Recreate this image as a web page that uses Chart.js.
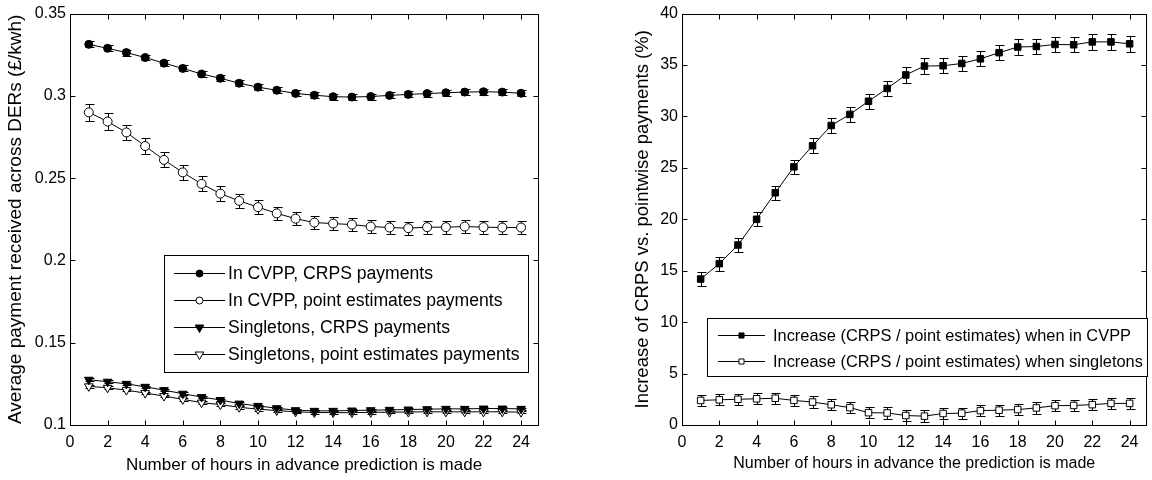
<!DOCTYPE html>
<html>
<head>
<meta charset="utf-8">
<script src="https://cdn.jsdelivr.net/npm/chart.js@4.4.1/dist/chart.umd.min.js"></script>
<style>
  body { margin: 0; background: #fff; }
  #wrap { position: relative; width: 1152px; height: 480px; }
  canvas { position: absolute; top: 0; }
</style>
</head>
<body>
<div id="wrap">
  <canvas id="pay_chart" width="576" height="480" style="left:0"></canvas>
  <canvas id="inc_chart" width="576" height="480" style="left:576px"></canvas>
</div>
<script>
/////////////////////////////////// DATA ///////////////////////////////////
const hours = [1, 2, 3, 4, 5, 6, 7, 8, 9, 10, 11, 12, 13, 14, 15, 16, 17, 18, 19, 20, 21, 22, 23, 24];
const xTicks = [0, 2, 4, 6, 8, 10, 12, 14, 16, 18, 20, 22, 24];
const payTicks = [0.1, 0.15, 0.2, 0.25, 0.3, 0.35];
const incTicks = [0, 5, 10, 15, 20, 25, 30, 35, 40];

// left chart: average payment (£/kwh)
const cvppCrps = [0.3313, 0.3289, 0.3263, 0.3233, 0.3199, 0.3167, 0.3133, 0.3107, 0.3077, 0.3053, 0.3034, 0.3015,
                  0.3004, 0.2995, 0.2993, 0.2996, 0.3003, 0.3009, 0.3014, 0.3019, 0.3023, 0.3025, 0.3023, 0.3016];
const cvppCrpsErr = [0.0018, 0.0018, 0.0018, 0.0018, 0.0018, 0.0018, 0.0018, 0.0018, 0.0018, 0.0018, 0.0018, 0.0018,
                     0.0018, 0.0018, 0.0018, 0.0018, 0.0018, 0.0018, 0.0018, 0.0018, 0.0018, 0.0018, 0.0018, 0.0018];
const cvppPoint = [0.2900, 0.2844, 0.2778, 0.2695, 0.2611, 0.2535, 0.2465, 0.2406, 0.2362, 0.2324, 0.2286, 0.2254,
                   0.2230, 0.2224, 0.2218, 0.2206, 0.2200, 0.2196, 0.2202, 0.2202, 0.2206, 0.2202, 0.2200, 0.2200];
const cvppPointErr = [0.0050, 0.0050, 0.0048, 0.0048, 0.0046, 0.0046, 0.0046, 0.0044, 0.0042, 0.0042, 0.0040, 0.0040,
                      0.0040, 0.0040, 0.0040, 0.0040, 0.0040, 0.0040, 0.0040, 0.0040, 0.0040, 0.0040, 0.0040, 0.0040];
const singCrps = [0.1275, 0.1263, 0.1250, 0.1232, 0.1212, 0.1190, 0.1170, 0.1152, 0.1130, 0.1116, 0.1102, 0.1090,
                  0.1086, 0.1086, 0.1088, 0.1090, 0.1092, 0.1094, 0.1096, 0.1098, 0.1098, 0.1100, 0.1100, 0.1098];
const singCrpsErr = [0.0008, 0.0008, 0.0008, 0.0008, 0.0008, 0.0008, 0.0008, 0.0008, 0.0008, 0.0008, 0.0008, 0.0008,
                     0.0008, 0.0008, 0.0008, 0.0008, 0.0008, 0.0008, 0.0008, 0.0008, 0.0008, 0.0008, 0.0008, 0.0008];
const singPoint = [0.1235, 0.1226, 0.1212, 0.1194, 0.1176, 0.1156, 0.1136, 0.1124, 0.1108, 0.1096, 0.1088, 0.1080,
                   0.1076, 0.1075, 0.1075, 0.1077, 0.1078, 0.1079, 0.1080, 0.1080, 0.1080, 0.1080, 0.1080, 0.1078];
const singPointErr = [0.0008, 0.0008, 0.0008, 0.0008, 0.0008, 0.0008, 0.0008, 0.0008, 0.0008, 0.0008, 0.0008, 0.0008,
                      0.0008, 0.0008, 0.0008, 0.0008, 0.0008, 0.0008, 0.0008, 0.0008, 0.0008, 0.0008, 0.0008, 0.0008];

// right chart: increase of CRPS vs. pointwise payments (%)
const cvppIncrease = [14.19, 15.69, 17.50, 20.00, 22.58, 25.10, 27.15, 29.12, 30.20, 31.48, 32.72, 34.04,
                      34.90, 34.93, 35.15, 35.60, 36.20, 36.75, 36.80, 37.00, 36.97, 37.25, 37.25, 37.06];
const cvppIncreaseErr = [0.68, 0.68, 0.70, 0.70, 0.70, 0.70, 0.72, 0.72, 0.72, 0.72, 0.72, 0.74,
                         0.74, 0.74, 0.74, 0.74, 0.75, 0.75, 0.75, 0.75, 0.75, 0.75, 0.75, 0.75];
const singIncrease = [2.39, 2.45, 2.50, 2.55, 2.60, 2.39, 2.23, 1.97, 1.69, 1.20, 1.17, 0.92,
                      0.86, 1.12, 1.15, 1.40, 1.44, 1.50, 1.66, 1.88, 1.90, 1.98, 2.10, 2.10];
const singIncreaseErr = [0.55, 0.55, 0.55, 0.55, 0.55, 0.55, 0.55, 0.55, 0.55, 0.55, 0.55, 0.55,
                         0.55, 0.55, 0.55, 0.55, 0.55, 0.55, 0.55, 0.55, 0.55, 0.55, 0.55, 0.55];

/////////////////////////////////// HELPERS ///////////////////////////////////
const FONT = "'Liberation Sans', Arial, Helvetica, sans-serif";
Chart.defaults.color = '#000';
Chart.defaults.font.family = FONT;

function toPoints(vals) {
    return hours.map((h, i) => ({ x: h, y: vals[i] }));
}

function series(label, vals, errs, style, filled, radius, legendRadius, rotation) {
    return {
        label: label,
        data: toPoints(vals),
        errors: errs,
        borderColor: '#000',
        borderWidth: 1,
        pointStyle: style,
        pointRotation: rotation || 0,
        pointRadius: radius,
        pointHoverRadius: radius,
        pointBackgroundColor: filled ? '#000' : '#fff',
        pointBorderColor: '#000',
        pointBorderWidth: 1,
        legendRadius: legendRadius,
        fill: false,
        tension: 0
    };
}

// matlab-like box: error bars, inward ticks on all four sides, legend inside
const boxPlot = {
    id: 'boxPlot',
    beforeDatasetsDraw(chart) {
        const ctx = chart.ctx, xs = chart.scales.x, ys = chart.scales.y;
        ctx.save();
        ctx.strokeStyle = '#000';
        ctx.lineWidth = 1;
        chart.data.datasets.forEach(ds => {
            if (!ds.errors) return;
            ds.data.forEach((p, i) => {
                const px = Math.round(xs.getPixelForValue(p.x)) + 0.5;
                const lo = Math.round(ys.getPixelForValue(p.y - ds.errors[i])) + 0.5;
                const hi = Math.round(ys.getPixelForValue(p.y + ds.errors[i])) + 0.5;
                ctx.beginPath();
                ctx.moveTo(px, lo); ctx.lineTo(px, hi);
                ctx.moveTo(px - 4, lo); ctx.lineTo(px + 5, lo);
                ctx.moveTo(px - 4, hi); ctx.lineTo(px + 5, hi);
                ctx.stroke();
            });
        });
        ctx.restore();
    },
    afterDraw(chart, args, opts) {
        const ctx = chart.ctx, a = chart.chartArea;
        const xs = chart.scales.x, ys = chart.scales.y;
        const L = Math.round(a.left) + 0.5, R = Math.round(a.right) + 0.5;
        const T = Math.round(a.top) + 0.5, B = Math.round(a.bottom) + 0.5;
        ctx.save();
        ctx.strokeStyle = '#000';
        ctx.lineWidth = 1;
        ctx.beginPath();
        xs.ticks.forEach(t => {
            const px = Math.round(xs.getPixelForValue(t.value)) + 0.5;
            ctx.moveTo(px, B); ctx.lineTo(px, B - 5);
            ctx.moveTo(px, T); ctx.lineTo(px, T + 5);
        });
        ys.ticks.forEach(t => {
            const py = Math.round(ys.getPixelForValue(t.value)) + 0.5;
            ctx.moveTo(L, py); ctx.lineTo(L + 5, py);
            ctx.moveTo(R, py); ctx.lineTo(R - 5, py);
        });
        ctx.stroke();
        ctx.strokeRect(L, T, R - L, B - T);

        // legend
        const lg = opts.legend;
        ctx.fillStyle = '#fff';
        ctx.fillRect(lg.x, lg.y, lg.w, lg.h);
        ctx.strokeRect(lg.x + 0.5, lg.y + 0.5, lg.w, lg.h);
        ctx.font = lg.fontSize + 'px ' + FONT;
        ctx.textBaseline = 'middle';
        ctx.textAlign = 'left';
        chart.data.datasets.forEach((ds, i) => {
            const cy = Math.round(lg.y + lg.first + i * lg.step) + 0.5;
            ctx.strokeStyle = '#000';
            ctx.beginPath();
            ctx.moveTo(lg.x + lg.lineStart, cy);
            ctx.lineTo(lg.x + lg.lineEnd, cy);
            ctx.stroke();
            ctx.fillStyle = ds.pointBackgroundColor;
            Chart.helpers.drawPoint(ctx, {
                pointStyle: ds.pointStyle,
                radius: ds.legendRadius,
                rotation: ds.pointRotation,
                borderWidth: 1
            }, lg.x + (lg.lineStart + lg.lineEnd) / 2, cy);
            ctx.fillStyle = '#000';
            ctx.fillText(ds.label, lg.x + lg.textStart, cy + 1);
        });
        ctx.restore();
    }
};

function axisX(title, titleSize, titlePad) {
    return {
        type: 'linear',
        min: 0,
        max: 24.9,
        afterBuildTicks: s => { s.ticks = xTicks.map(v => ({ value: v })); },
        afterFit: s => { s.height = 55; },
        ticks: { font: { size: 16 }, padding: 8, maxRotation: 0, autoSkip: false },
        grid: { display: false, drawTicks: false },
        border: { display: false },
        title: { display: true, text: title, font: { size: titleSize }, padding: { top: 0, bottom: titlePad } }
    };
}

function axisY(min, max, tickVals, width, title, titleSize, titlePad) {
    return {
        type: 'linear',
        min: min,
        max: max,
        afterBuildTicks: s => { s.ticks = tickVals.map(v => ({ value: v })); },
        afterFit: s => { s.width = width; },
        ticks: { font: { size: 16 }, padding: 4, callback: v => String(Number(v.toFixed(2))) },
        grid: { display: false, drawTicks: false },
        border: { display: false },
        title: { display: true, text: title, font: { size: titleSize }, padding: { top: titlePad, bottom: 0 } }
    };
}

/////////////////////////////////// CHARTS ///////////////////////////////////
const pay_chart = new Chart(document.getElementById('pay_chart'), {
    type: 'line',
    data: {
        datasets: [
            series('In CVPP, CRPS payments', cvppCrps, cvppCrpsErr, 'circle', true, 4, 3.5),
            series('In CVPP, point estimates payments', cvppPoint, cvppPointErr, 'circle', false, 4.5, 3.5),
            series('Singletons, CRPS payments', singCrps, singCrpsErr, 'triangle', true, 5, 5, 180),
            series('Singletons, point estimates payments', singPoint, singPointErr, 'triangle', false, 5, 5, 180)
        ]
    },
    options: {
        responsive: false,
        animation: false,
        layout: { padding: { left: 0, top: 7, right: 38, bottom: 0 } },
        scales: {
            x: axisX('Number of hours in advance prediction is made', 17, 4),
            y: axisY(0.1, 0.35, payTicks, 70, 'Average payment received across DERs (£/kwh)', 19, 4)
        },
        plugins: {
            legend: { display: false },
            tooltip: { enabled: false },
            boxPlot: {
                legend: { x: 164, y: 255, w: 364, h: 117, first: 18, step: 27,
                          lineStart: 10, lineEnd: 61, textStart: 64, fontSize: 17.6 }
            }
        }
    },
    plugins: [boxPlot]
});

const inc_chart = new Chart(document.getElementById('inc_chart'), {
    type: 'line',
    data: {
        datasets: [
            series('Increase (CRPS / point estimates) when in CVPP', cvppIncrease, cvppIncreaseErr, 'rect', true, 4.6, 3.6),
            series('Increase (CRPS / point estimates) when singletons', singIncrease, singIncreaseErr, 'rect', false, 4.6, 3.6)
        ]
    },
    options: {
        responsive: false,
        animation: false,
        layout: { padding: { left: 52, top: 7, right: 4, bottom: 0 } },
        scales: {
            x: axisX('Number of hours in advance the prediction is made', 16, 7),
            y: axisY(0, 40, incTicks, 54, 'Increase of CRPS vs. pointwise payments (%)', 18.5, 4)
        },
        plugins: {
            legend: { display: false },
            tooltip: { enabled: false },
            boxPlot: {
                legend: { x: 131, y: 318, w: 440, h: 58, first: 17, step: 25.5,
                          lineStart: 11, lineEnd: 58, textStart: 66, fontSize: 16.4 }
            }
        }
    },
    plugins: [boxPlot]
});
</script>
</body>
</html>
